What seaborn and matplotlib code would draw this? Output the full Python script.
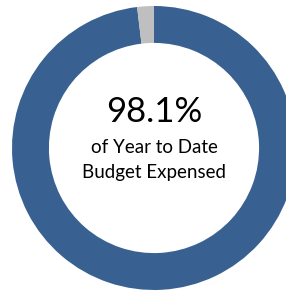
import seaborn as sns
import matplotlib.pyplot as plt

# share of year-to-date budget
labels = ['Expensed', 'Remaining']
values = [98.1, 1.9]
colors = ['#386191', '#bfbfbf']
headline = '98.1%'
caption_lines = ['of Year to Date', 'Budget Expensed']

sns.set_theme(style='white')
plt.rcParams['font.family'] = ['Lato', 'DejaVu Sans']

fig = plt.figure(figsize=(2.86, 2.93), dpi=100)
# circle centre ~ (154, 148) px, radius ~142 px
cx, cy, r = 154, 148, 142
ax = fig.add_axes([(cx - r) / 286, (293 - cy - r) / 293, 2 * r / 286, 2 * r / 293])

ax.pie(values, colors=colors, startangle=90, counterclock=False, radius=1,
       wedgeprops=dict(width=0.26, edgecolor='none'))
ax.set_xlim(-1, 1)
ax.set_ylim(-1, 1)
ax.set_aspect('equal')
ax.axis('off')

ax.text(0, 0.18, headline, ha='center', va='baseline', fontsize=25, color='black')
ax.text(0, -0.035, caption_lines[0], ha='center', va='baseline', fontsize=13.5, color='black')
ax.text(0, -0.21, caption_lines[1], ha='center', va='baseline', fontsize=13.5, color='black')

fig.savefig('out.png', dpi=100)
